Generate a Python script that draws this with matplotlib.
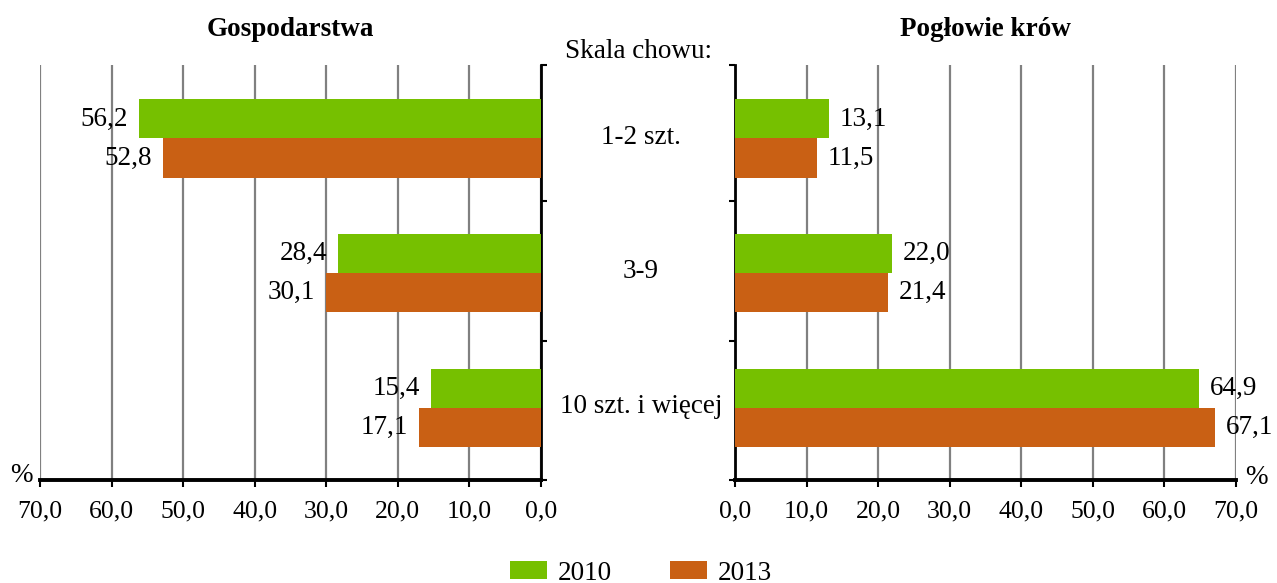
import matplotlib
matplotlib.use("Agg")
import matplotlib.pyplot as plt
import matplotlib.transforms as mtrans
import numpy as np

plt.rcParams['font.family'] = ['Liberation Serif', 'DejaVu Serif']

categories = ["1-2 szt.", "3-9", "10 szt. i więcej"]
years = ["2010", "2013"]
farms_2010 = [56.2, 28.4, 15.4]
farms_2013 = [52.8, 30.1, 17.1]
cows_2010 = [13.1, 22.0, 64.9]
cows_2013 = [11.5, 21.4, 67.1]
xticks = [0, 10, 20, 30, 40, 50, 60, 70]

green = "#76c000"
orange = "#c96014"
fs = 19.5

W, H = 1277, 583
fig = plt.figure(figsize=(W / 100, H / 100), dpi=100)
ax1 = fig.add_axes([40 / W, (H - 480) / H, 501 / W, 415 / H])
ax2 = fig.add_axes([735 / W, (H - 480) / H, 501 / W, 415 / H])

y = np.arange(len(categories))
bh = 0.29
ylo, yhi = -0.545, 2.534


def fmt(v):
    return f"{v:.1f}".replace(".", ",")


for ax, a, b, side in [(ax1, farms_2010, farms_2013, "left"), (ax2, cows_2010, cows_2013, "right")]:
    ax.barh(y - bh / 2, a, height=bh, color=green, label=years[0], zorder=3)
    ax.barh(y + bh / 2, b, height=bh, color=orange, label=years[1], zorder=3)
    ax.set_xlim(0, 70)
    ax.set_ylim(yhi, ylo)
    ax.set_xticks(xticks)
    ax.set_xticklabels([fmt(t) for t in xticks], fontsize=18.5)
    ax.grid(axis="x", color="#808080", lw=1.6, zorder=0)
    ax.tick_params(axis="x", direction="out", length=5, width=1.5, pad=10)
    for s in ["top", "left", "right"]:
        ax.spines[s].set_visible(False)
    ax.spines["bottom"].set_linewidth(2.8)
    ax.set_yticks([ylo, 0.464, 1.503, yhi])
    ax.set_yticklabels([])
    ax.tick_params(axis="y", direction="out", length=4, width=1.5)
    for i in range(len(categories)):
        for v, off in [(a[i], -bh / 2), (b[i], bh / 2)]:
            ha = "right" if side == "left" else "left"
            ax.text(v + 1.5, y[i] + off, fmt(v), ha=ha, va="center", fontsize=fs)

ax1.invert_xaxis()
ax1.spines["right"].set_visible(True)
ax1.spines["right"].set_linewidth(2)
ax1.yaxis.tick_right()
ax2.spines["left"].set_visible(True)
ax2.spines["left"].set_linewidth(2)

fig.text(290 / W, 1 - 29 / H, "Gospodarstwa", ha="center", va="center", fontsize=fs, fontweight="bold")
fig.text(985 / W, 1 - 29 / H, "Pogłowie krów", ha="center", va="center", fontsize=fs, fontweight="bold")
fig.text(639 / W, 1 - 52 / H, "Skala chowu:", ha="center", va="center", fontsize=fs)
tr = mtrans.blended_transform_factory(fig.transFigure, ax2.transData)
for i, c in enumerate(categories):
    fig.text(641 / W, y[i] - 0.01, c, transform=tr, ha="center", va="center", fontsize=fs)
fig.text(21 / W, 1 - 476 / H, "%", ha="center", va="center", fontsize=fs)
fig.text(1256 / W, 1 - 477 / H, "%", ha="center", va="center", fontsize=fs)

handles, labels = ax1.get_legend_handles_labels()
fig.legend(handles, labels, loc="center", bbox_to_anchor=(641 / W, 1 - 573 / H), ncol=2,
           frameon=False, fontsize=fs, handlelength=1.37, handleheight=0.67,
           handletextpad=0.4, columnspacing=2.15, borderpad=0, borderaxespad=0)

fig.savefig("out.png", dpi=100)
